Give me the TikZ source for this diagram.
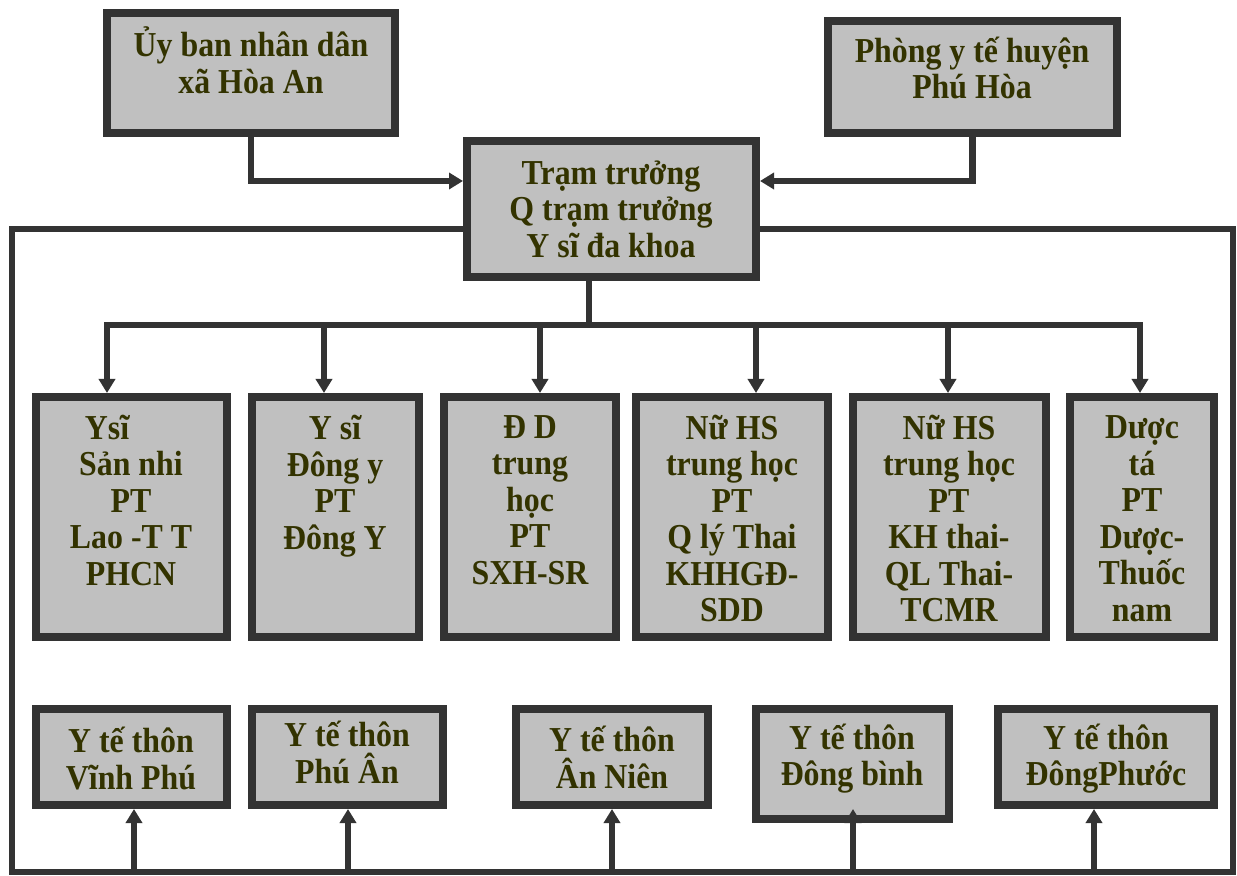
\documentclass[tikz,border=0pt]{standalone}
\usepackage{fontspec}
\setmainfont{Liberation Serif}[FakeStretch=0.91]
\usetikzlibrary{arrows.meta}

\definecolor{boxgray}{HTML}{C0C0C0}
\definecolor{boxedge}{HTML}{333333}
\definecolor{olivetext}{HTML}{333300}

\begin{document}
\begin{tikzpicture}[x=0.5pt,y=-0.5pt,
    line/.style={draw=boxedge,line width=3.2pt,line cap=rect},
    conn/.style={line,-{Triangle[width=8pt,length=7pt]}}]

      \useasboundingbox (0,0) rectangle (1237,876);

      % Boxes
      \begin{scope}[every node/.style={rectangle,draw=boxedge,fill=boxgray,line width=4pt,inner sep=0pt}]
        \node[minimum width=144pt,minimum height=60pt] (ub) at (251,73) {};
        \node[minimum width=144.5pt,minimum height=56pt] (pyt) at (972.5,77) {};
        \node[minimum width=144.5pt,minimum height=68pt] (tram) at (611.5,209) {};

        \node[minimum width=95.5pt,minimum height=120pt] (m1) at (131.5,517) {};
        \node[minimum width=83.5pt,minimum height=120pt] (m2) at (335.5,517) {};
        \node[minimum width=86pt,minimum height=120pt] (m3) at (530,517) {};
        \node[minimum width=96pt,minimum height=120pt] (m4) at (732,517) {};
        \node[minimum width=96.5pt,minimum height=120pt] (m5) at (949.5,517) {};
        \node[minimum width=72pt,minimum height=120pt] (m6) at (1142,517) {};

        \node[minimum width=95.5pt,minimum height=48pt] (b1) at (131.5,757) {};
        \node[minimum width=95.5pt,minimum height=48pt] (b2) at (347.5,757) {};
        \node[minimum width=96pt,minimum height=48pt] (b3) at (612,757) {};
        \node[minimum width=96.5pt,minimum height=55pt] (b4) at (852.5,764) {};
        \node[minimum width=108pt,minimum height=48pt] (b5) at (1106,757) {};
      \end{scope}

      % Texts
      \begin{scope}[every node/.style={text=olivetext,align=center,inner sep=0pt,
          font=\fontsize{17.5pt}{18.25pt}\selectfont\bfseries}]
        \node (ubt) at (251,60.5) {Ủy ban nhân dân\\xã Hòa An};
        \node (pytt) at (972,68) {Phòng y tế huyện\\Phú Hòa};
        \node (tramt) at (611,209) {Trạm trưởng\\Q trạm trưởng\\Y sĩ đa khoa};

        \node (m1t) at (131,500) {Ysĩ\hspace*{24pt}\\Sản nhi\\PT\\Lao -T T\\PHCN};
        \node (m2t) at (335,486) {Y sĩ\\Đông y\\PT\\Đông Y};
        \node (m3t) at (530,500) {Đ D\\trung\\học\\PT\\SXH-SR};
        \node (m4t) at (732,518.5) {Nữ HS\\trung học\\PT\\Q lý Thai\\KHHGĐ-\\SDD};
        \node (m5t) at (949,518.5) {Nữ HS\\trung học\\PT\\KH thai-\\QL Thai-\\TCMR};
        \node (m6t) at (1142,518.5) {Dược\\tá\\PT\\Dược-\\Thuốc\\nam};

        \node (b1t) at (131,758.5) {Y tế thôn\\Vĩnh Phú};
        \node (b2t) at (347,752.5) {Y tế thôn\\Phú Ân};
        \node (b3t) at (612,757.5) {Y tế thôn\\Ân Niên};
        \node (b4t) at (852,758.5) {Y tế thôn\\Đông bình};
        \node (b5t) at (1106,758.5) {Y tế thôn\\ĐôngPhước};
      \end{scope}

      % Points on the lines
      \coordinate (a0) at (589,325);
      \coordinate (a1) at (107,325);
      \coordinate (a2) at (324,325);
      \coordinate (a3) at (540,325);
      \coordinate (a4) at (756,325);
      \coordinate (a5) at (948,325);
      \coordinate (a6) at (1140,325);

      \coordinate (cL) at (12,872);
      \coordinate (cR) at (1233,872);
      \coordinate (c1) at (134,872);
      \coordinate (c2) at (348,872);
      \coordinate (c3) at (612,872);
      \coordinate (c4) at (853,872);
      \coordinate (c5) at (1094,872);

      % Connectors
      \draw[conn] (ub.south) |- ([yshift=14pt]tram.west);
      \draw[conn] (pyt.south) |- ([yshift=14pt]tram.east);

      \draw[line] ([yshift=-10pt]tram.west) -| (cL) -- (cR) |- ([yshift=-10pt]tram.east);

      \draw[line] (a0 |- tram.south) -- (a0);
      \draw[line] (a1) -- (a6);
      \draw[conn] (a1) -- (a1 |- m1.north);
      \draw[conn] (a2) -- (a2 |- m2.north);
      \draw[conn] (a3) -- (a3 |- m3.north);
      \draw[conn] (a4) -- (a4 |- m4.north);
      \draw[conn] (a5) -- (a5 |- m5.north);
      \draw[conn] (a6) -- (a6 |- m6.north);

      \draw[conn] (c1) -- (c1 |- b1.south);
      \draw[conn] (c2) -- (c2 |- b2.south);
      \draw[conn] (c3) -- (c3 |- b3.south);
      \draw[conn,shorten >=-7pt] (c4) -- (c4 |- b4.south);
      \draw[conn] (c5) -- (c5 |- b5.south);

\end{tikzpicture}
\end{document}
